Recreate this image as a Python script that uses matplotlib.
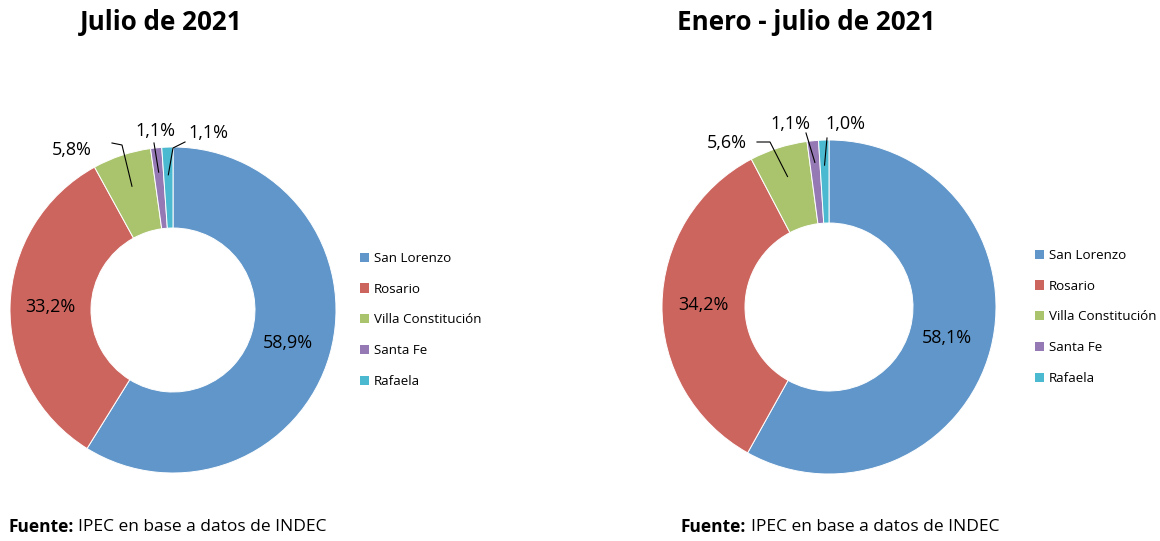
import numpy as np
import matplotlib.pyplot as plt
from matplotlib.patches import Patch

# ================= DATOS =================
categorias = ["San Lorenzo", "Rosario", "Villa Constitución", "Santa Fe", "Rafaela"]
valores_julio = [58.9, 33.2, 5.8, 1.1, 1.1]
valores_enero_julio = [58.1, 34.2, 5.6, 1.1, 1.0]
titulos = ["Julio de 2021", "Enero - julio de 2021"]
fuente = "IPEC en base a datos de INDEC"

colores = ["#6096c9", "#cd655f", "#a9c46d", "#9579b4", "#4bb9cf"]

W, H = 1160, 541
plt.rcParams['font.family'] = ['Open Sans', 'DejaVu Sans']

fig = plt.figure(figsize=(W / 100, H / 100), dpi=100)
ax = fig.add_axes([0, 0, 1, 1])


def py(y):
    # convertir coordenada de pixel (desde arriba) a coordenada de datos
    return H - y


def dona(valores, centro, radio, ancho, internos, externos):
    wedges, _ = ax.pie(valores, colors=colores, startangle=90, counterclock=False,
                       center=(centro[0], py(centro[1])), radius=radio,
                       wedgeprops=dict(width=ancho, edgecolor="white", linewidth=0.7))
    for i, w in enumerate(wedges):
        ang = np.deg2rad((w.theta1 + w.theta2) / 2)
        txt = f"{valores[i]:.1f}%".replace(".", ",")
        if i in internos:
            r = radio * internos[i]
            ax.text(centro[0] + r * np.cos(ang), py(centro[1]) + r * np.sin(ang), txt,
                    ha="center", va="center", fontsize=13)
        else:
            factor, puntos, pos_txt = externos[i]
            r = radio * factor
            x0, y0 = centro[0] + r * np.cos(ang), py(centro[1]) + r * np.sin(ang)
            xs = [x0] + [p[0] for p in puntos]
            ys = [y0] + [py(p[1]) for p in puntos]
            ax.plot(xs, ys, color="black", lw=0.8)
            ax.text(pos_txt[0], py(pos_txt[1]), txt, ha="center", va="center", fontsize=13)


# Julio de 2021
dona(valores_julio, (173, 310), 163, 81, {0: 0.73, 1: 0.75},
     {2: (0.80, [(122, 145), (112, 143)], (72, 150)),
      3: (0.85, [(154, 143)], (155, 131)),
      4: (0.83, [(173, 148), (185, 142)], (208, 133))})

# Enero - julio de 2021
dona(valores_enero_julio, (829, 307), 167, 83, {0: 0.73, 1: 0.75},
     {2: (0.82, [(770, 142), (757, 142)], (727, 143)),
      3: (0.87, [(806, 133)], (790, 124)),
      4: (0.85, [(827, 138)], (845, 124))})

ax.set_xlim(0, W)
ax.set_ylim(0, H)
ax.set_aspect("equal")
ax.axis("off")

# Titulos
ax.text(161, py(22), titulos[0], ha="center", va="center", fontsize=18.7, fontweight="bold")
ax.text(806, py(22), titulos[1], ha="center", va="center", fontsize=18.7, fontweight="bold")

# Leyendas
handles = [Patch(facecolor=c, edgecolor="none") for c in colores]
for bx, by in [(360, 252), (1035, 249)]:
    fig.legend(handles, categorias, loc="upper left", bbox_to_anchor=(bx / W, 1 - by / H),
               frameon=False, fontsize=9.6, handlelength=0.7, handleheight=0.7,
               handletextpad=0.32, labelspacing=1.33, borderaxespad=0, borderpad=0)

# Fuente
for fx in [8, 681]:
    ax.text(fx, py(527), "Fuente:", ha="left", va="center", fontsize=12.5, fontweight="bold")
    ax.text(fx + 70, py(527), fuente, ha="left", va="center", fontsize=12.5)

fig.savefig("out.png", dpi=100)
